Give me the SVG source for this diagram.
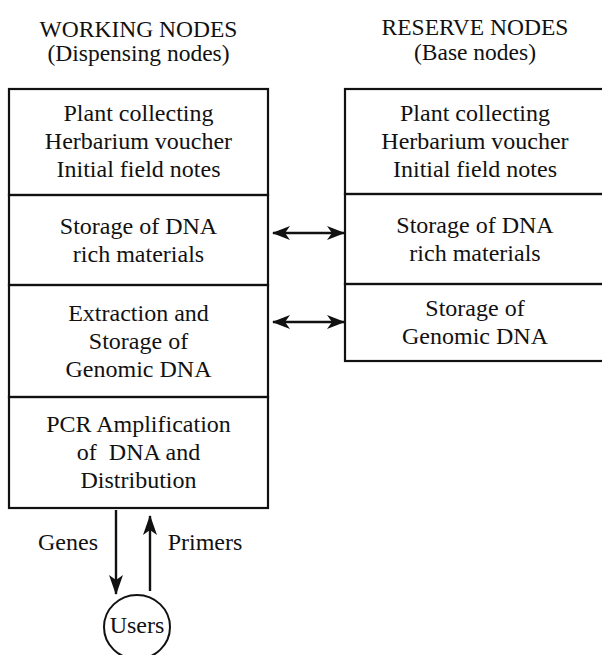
<svg xmlns="http://www.w3.org/2000/svg" width="602" height="655" viewBox="0 0 602 655">
<style>
text{font-family:'Liberation Serif','Times New Roman',serif;fill:#111;text-anchor:middle}
.h{font-size:23.5px}
.b{font-size:24px}
.box{fill:none;stroke:#111;stroke-width:2.2}
.ln{stroke:#111;stroke-width:2;fill:none}
.conn{stroke:#111;stroke-width:2.4;fill:none}
</style>
<defs>
<marker id="ah" viewBox="0 0 18 14" refX="17" refY="7" markerWidth="18" markerHeight="14" markerUnits="userSpaceOnUse" orient="auto-start-reverse">
<path d="M0,0 L18,7 L0,14 L5,7 z" fill="#111"/>
</marker>
<marker id="av" viewBox="0 0 20 14" refX="19" refY="7" markerWidth="20" markerHeight="14" markerUnits="userSpaceOnUse" orient="auto">
<path d="M0,0 L20,7 L0,14 L5,7 z" fill="#111"/>
</marker>
</defs>
<rect width="602" height="655" fill="#fff"/>
<g id="header-working">
<text class="h" x="138.5" y="37">WORKING NODES</text>
<text class="h" x="138.5" y="61">(Dispensing nodes)</text>
</g>
<g id="header-reserve">
<text class="h" x="475" y="35">RESERVE NODES</text>
<text class="h" x="475" y="60">(Base nodes)</text>
</g>
<g id="w1">
<rect class="box" x="9" y="89" width="259" height="106"/>
<text class="b" x="138.5" y="121">Plant collecting</text>
<text class="b" x="138.5" y="149">Herbarium voucher</text>
<text class="b" x="138.5" y="177">Initial field notes</text>
</g>
<g id="w2">
<rect class="box" x="9" y="195" width="259" height="90"/>
<text class="b" x="138.5" y="234">Storage of DNA</text>
<text class="b" x="138.5" y="262">rich materials</text>
</g>
<g id="w3">
<rect class="box" x="9" y="285" width="259" height="112"/>
<text class="b" x="138.5" y="321">Extraction and</text>
<text class="b" x="138.5" y="349">Storage of</text>
<text class="b" x="138.5" y="377">Genomic DNA</text>
</g>
<g id="w4">
<rect class="box" x="9" y="397" width="259" height="111"/>
<text class="b" x="138.5" y="432">PCR Amplification</text>
<text class="b" x="138.5" y="460" xml:space="preserve">of  DNA and</text>
<text class="b" x="138.5" y="488">Distribution</text>
</g>
<g id="r1">
<rect class="box" x="345" y="89" width="262" height="105"/>
<text class="b" x="475" y="121">Plant collecting</text>
<text class="b" x="475" y="149">Herbarium voucher</text>
<text class="b" x="475" y="177">Initial field notes</text>
</g>
<g id="r2">
<rect class="box" x="345" y="194" width="262" height="90"/>
<text class="b" x="475" y="233">Storage of DNA</text>
<text class="b" x="475" y="261">rich materials</text>
</g>
<g id="r3">
<rect class="box" x="345" y="284" width="262" height="77"/>
<text class="b" x="475" y="316">Storage of</text>
<text class="b" x="475" y="344">Genomic DNA</text>
</g>
<g id="users">
<ellipse class="ln" cx="137" cy="627" rx="33" ry="32"/>
<text class="b" x="137" y="633">Users</text>
</g>
<g id="connectors">
<line class="conn" x1="273" y1="233" x2="344" y2="233" marker-start="url(#ah)" marker-end="url(#ah)"/>
<line class="conn" x1="273" y1="322" x2="344" y2="322" marker-start="url(#ah)" marker-end="url(#ah)"/>
<line class="conn" x1="116" y1="510" x2="116" y2="594" marker-end="url(#av)"/>
<line class="conn" x1="150" y1="591" x2="150" y2="516" marker-end="url(#av)"/>
<text class="b" x="68" y="550">Genes</text>
<text class="b" x="205" y="550">Primers</text>
</g>
</svg>
